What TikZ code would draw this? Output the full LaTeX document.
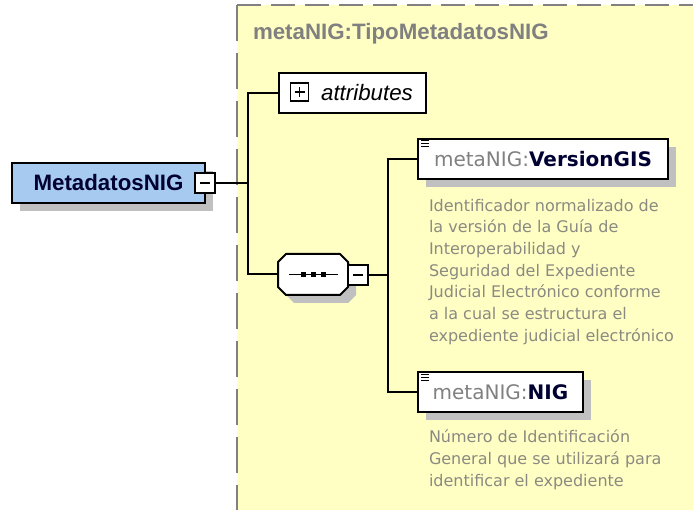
\documentclass[tikz,border=0pt]{standalone}
\usepackage{fontspec}
\setmainfont{Liberation Sans}
\newfontfamily\tahfont{DejaVu Sans}
\usetikzlibrary{shadows}

\definecolor{boxblue}{HTML}{A6CAF0}
\definecolor{typeyellow}{HTML}{FFFFC4}
\definecolor{shadowgray}{HTML}{C0C0C0}
\definecolor{labelgray}{HTML}{808080}
\definecolor{descgray}{HTML}{8A8A82}
\definecolor{namenavy}{HTML}{000033}

\begin{document}
\begin{tikzpicture}[x=1pt, y=-1pt, line width=2pt,
    shade box/.style={drop shadow={shadow xshift=8pt, shadow yshift=-8pt, fill=shadowgray, opacity=1}},
    main node/.style={rectangle, draw, inner sep=0pt, minimum height=40pt},
    toggle box/.style={rectangle, draw, fill=white, inner sep=0pt, minimum size=20pt},
    desc text/.style={anchor=north west, inner sep=0pt, align=left, text=descgray,
                      font=\tahfont\fontsize{16}{21.7}\selectfont},
    elbow/.style={to path={|- (\tikztotarget)}}]

  \useasboundingbox (0,0) rectangle (693,510);

  % complex type area
  \fill[typeyellow] (237,5) rectangle (700,515);
  \draw[labelgray, dash pattern=on 24pt off 10pt] (237,5) -- (693,5);
  \draw[labelgray, dash pattern=on 36pt off 12pt] (237,5) -- (237,510);
  \node[anchor=west, inner sep=0pt, text=labelgray, font=\bfseries\fontsize{22.3}{26}\selectfont] (title) at (252,34) {metaNIG:TipoMetadatosNIG};

  % root element
  \node[main node, fill=boxblue, minimum width=193pt, shade box, text=namenavy,
        font=\bfseries\fontsize{22.3}{26}\selectfont] (root) at (108.5,183) {MetadatosNIG};
  \node[toggle box] (rminus) at (205,183) {};
  \draw[line width=1.5pt] ([xshift=-5pt]rminus.center) -- ([xshift=5pt]rminus.center);
  \coordinate (j1) at (248,183);

  % attributes
  \node[main node, fill=white, minimum width=147pt, font=\itshape\fontsize{22.3}{26}\selectfont] (attr) at (352.5,93) {\hspace*{29pt}attributes};
  \node[toggle box, minimum size=18pt, line width=1.5pt] (aplus) at (299.5,92) {};
  \draw[line width=1.5pt] ([xshift=-5pt]aplus.center) -- ([xshift=5pt]aplus.center)
                          ([yshift=-5pt]aplus.center) -- ([yshift=5pt]aplus.center);

  % sequence
  \node[rectangle, inner sep=0pt, minimum width=68pt, minimum height=39pt] (seq) at (313,274.5) {};
  \draw[fill=white, shade box] ([xshift=8pt]seq.north west) -- ([xshift=-8pt]seq.north east)
    -- ([yshift=-8pt]seq.north east) -- ([yshift=8pt]seq.south east) -- ([xshift=-8pt]seq.south east)
    -- ([xshift=8pt]seq.south west) -- ([yshift=8pt]seq.south west) -- ([yshift=-8pt]seq.north west) -- cycle;
  \draw[line width=1.5pt] ([xshift=-24pt]seq.center) -- ([xshift=25pt]seq.center);
  \foreach \dx in {-10,0,10}
    \fill ([xshift=\dx pt]seq.center) +(-2.5,-2.5) rectangle +(2.5,2.5);
  \node[toggle box] (sminus) at (358,275) {};
  \draw[line width=1.5pt] ([xshift=-5pt]sminus.center) -- ([xshift=5pt]sminus.center);
  \coordinate (j2) at (388,275);

  % child elements
  \node[main node, fill=white, minimum width=250pt, shade box, font=\tahfont\fontsize{20}{24}\selectfont] (ver) at (543,159)
    {\textcolor{labelgray}{metaNIG:}\textcolor{namenavy}{\bfseries VersionGIS}};
  \node[main node, fill=white, minimum width=165pt, shade box, font=\tahfont\fontsize{20}{24}\selectfont] (nig) at (500.5,392)
    {\textcolor{labelgray}{metaNIG:}\textcolor{namenavy}{\bfseries NIG}};
  \foreach \n in {ver,nig}
    \foreach \k in {3,6,9}
      \draw[line width=1pt] ([shift={(4pt,-\k pt)}]\n.north west) -- ++(8,0);

  \node[desc text] (vdesc) at (428,198) {Identificador normalizado de\\la versión de la Guía de\\Interoperabilidad y\\Seguridad del Expediente\\Judicial Electrónico conforme\\a la cual se estructura el\\expediente judicial electrónico};
  \node[desc text] (ndesc) at (428,429) {Número de Identificación\\General que se utilizará para\\identificar el expediente};

  \path (rminus) edge (j1)
        (j1) edge[elbow] (attr)
             edge[elbow] (seq)
        (sminus) edge (j2)
        (j2) edge[elbow] (ver)
             edge[elbow] (nig);
\end{tikzpicture}
\end{document}
